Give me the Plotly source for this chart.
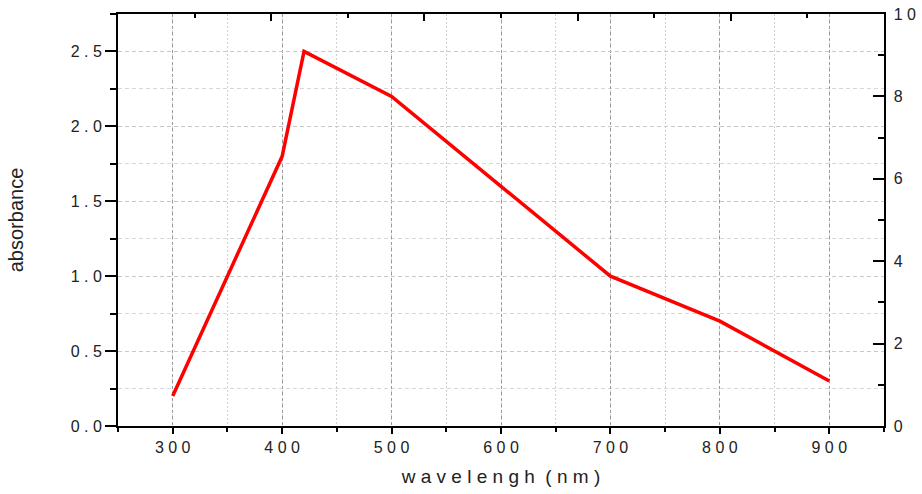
import plotly.graph_objects as go

# data
wavelength = [300, 400, 420, 500, 600, 700, 800, 900]
absorbance = [0.2, 1.8, 2.5, 2.2, 1.6, 1.0, 0.7, 0.3]

x_tick_vals = [300, 400, 500, 600, 700, 800, 900]
x_tick_text = ["3 0 0", "4 0 0", "5 0 0", "6 0 0", "7 0 0", "8 0 0", "9 0 0"]
y_tick_vals = [0.0, 0.5, 1.0, 1.5, 2.0, 2.5]
y_tick_text = ["0 . 0", "0 . 5", "1 . 0", "1 . 5", "2 . 0", "2 . 5"]
y2_tick_vals = [0, 2, 4, 6, 8, 10]
y2_tick_text = [" 0", " 2", " 4", " 6", " 8", " 1 0"]

FONT = "Liberation Sans, Arial, sans-serif"
TICKFONT = dict(family=FONT, size=16, color="#222222")

fig = go.Figure()
fig.add_trace(go.Scatter(x=wavelength, y=absorbance, mode="lines",
                         line=dict(color="#ff0000", width=3.5),
                         showlegend=False, hoverinfo="skip"))
# dummy trace to anchor the secondary (top/right) axes
fig.add_trace(go.Scatter(x=[None], y=[None], xaxis="x2", yaxis="y2",
                         mode="lines", showlegend=False, hoverinfo="skip"))

fig.update_layout(
    template="none",
    width=922, height=494,
    margin=dict(l=118, r=38, t=14, b=68, pad=0),
    paper_bgcolor="white", plot_bgcolor="white",
    font=dict(family=FONT, color="#222222"),
    xaxis=dict(
        range=[250, 950], tickvals=x_tick_vals, ticktext=x_tick_text,
        automargin=False,
        showline=True, linecolor="black", linewidth=2,
        ticks="outside", ticklen=6, tickwidth=2, tickcolor="black",
        tickfont=TICKFONT,
        showgrid=True, gridcolor="#999999", griddash="3px,3px", gridwidth=1,
        zeroline=False,
        minor=dict(dtick=50, tick0=0, ticks="outside", ticklen=4, tickwidth=2,
                   tickcolor="black", showgrid=True, gridcolor="#d0d0d0",
                   griddash="2px,2px", gridwidth=1),
        title=dict(text="w a v e l e n g h  ( n m )",
                   font=dict(family=FONT, size=19, color="#222222"), standoff=14),
    ),
    yaxis=dict(
        range=[0, 2.75], tickvals=y_tick_vals, ticktext=y_tick_text,
        automargin=False,
        showline=True, linecolor="black", linewidth=2,
        ticks="outside", ticklen=11, tickwidth=2, tickcolor="black",
        tickfont=TICKFONT,
        showgrid=True, gridcolor="#c8c8c8", griddash="4px,3px", gridwidth=1,
        zeroline=False,
        minor=dict(dtick=0.25, tick0=0, ticks="outside", ticklen=6, tickwidth=2,
                   tickcolor="black", showgrid=True, gridcolor="#d8d8d8",
                   griddash="4px,3px", gridwidth=1),
        title=dict(text="absorbance",
                   font=dict(family=FONT, size=20, color="#222222"), standoff=42),
    ),
    xaxis2=dict(
        overlaying="x", side="top", range=[0, 10], anchor="y2",
        automargin=False,
        showline=True, linecolor="black", linewidth=2,
        tickmode="linear", tick0=0, dtick=2,
        ticks="inside", ticklen=7, tickwidth=2, tickcolor="black",
        showticklabels=False, showgrid=False, zeroline=False,
        minor=dict(dtick=1, tick0=0, ticks="inside", ticklen=4, tickwidth=2,
                   tickcolor="black", showgrid=False),
    ),
    yaxis2=dict(
        overlaying="y", side="right", range=[0, 10], anchor="x2",
        automargin=False,
        tickvals=y2_tick_vals, ticktext=y2_tick_text,
        showline=True, linecolor="black", linewidth=2,
        ticks="inside", ticklen=11, tickwidth=2, tickcolor="black",
        tickfont=TICKFONT, showgrid=False, zeroline=False,
        minor=dict(dtick=1, tick0=0, ticks="inside", ticklen=6, tickwidth=2,
                   tickcolor="black", showgrid=False),
    ),
)

fig.write_html("out.html")
